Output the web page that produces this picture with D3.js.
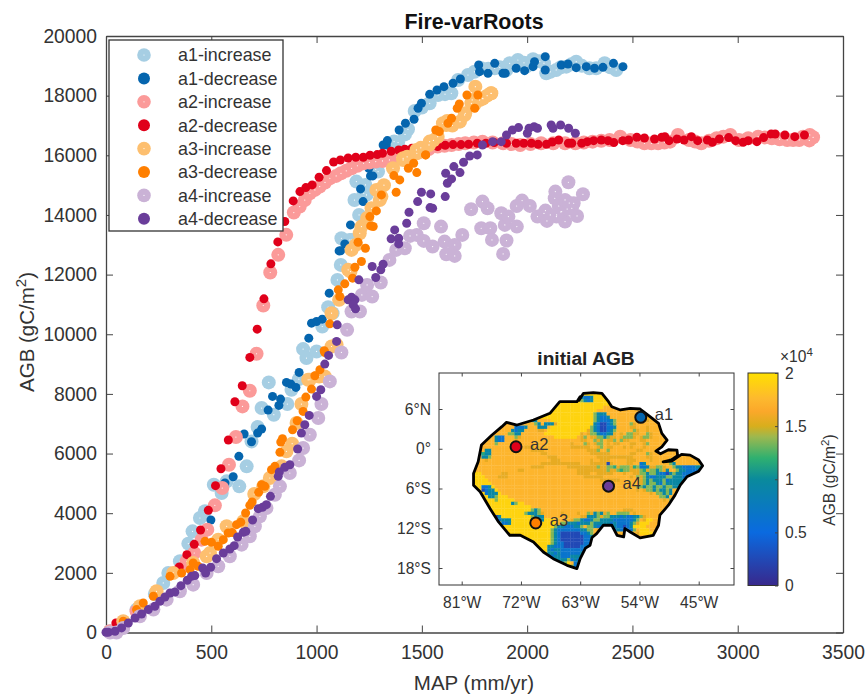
<!DOCTYPE html>
<html>
<head>
<meta charset="utf-8">
<script src="https://cdnjs.cloudflare.com/ajax/libs/d3/7.8.5/d3.min.js"></script>
<style>
  body { margin: 0; background: #fff; }
  svg { display: block; }
  text { font-family: "Liberation Sans", Arial, sans-serif; fill: #333; }
  .axis path, .axis line { stroke: #444; stroke-width: 1.3; }
  .tick line { stroke: #444; stroke-width: 1; }
</style>
</head>
<body>
<div id="chart"></div>
<script>
'use strict';

// values, [MAP mm/yr, AGB gC/m2]
var a1Increase = [[19,40],[82,320],[145,767],[232,1292],[272,1661],[296,1996],[351,2387],[391,2979],[411,3392],[446,3839],[470,4063],[512,4956],[549,4677],[573,5068],[633,4900],[668,5570],[691,6408],[720,6888],[739,7525],[773,8385],[797,7302],[861,7659],[881,8140],[916,8495],[936,9502],[952,9201],[1000,9424],[1027,10260],[1055,10908],[1076,10707],[1099,11823],[1115,12325],[1118,13219],[1158,13163],[1166,13164],[1202,14001],[1224,14727],[1189,15118],[1180,14500],[1237,14672],[1232,15007],[1281,15531],[1292,15454],[1368,16459],[1387,16426],[1420,16700],[1434,16872],[1466,17487],[1500,17600],[1537,17744],[1577,18023],[1610,18050],[1640,18079],[1672,18526],[1719,18693],[1750,18800],[1782,18917],[1815,18900],[1846,18917],[1870,18950],[1901,18861],[1917,19084],[1956,19196],[1985,19100],[1996,18972],[2028,19218],[2060,19150],[2091,18749],[2080,19090],[2110,18800],[2138,18861],[2160,18950],[2186,18972],[2210,19050],[2233,19140],[2260,19000],[2296,18917],[2328,18917],[2368,19084],[2395,18950],[2423,18861]];
var a1Decrease = [[498,3772],[565,5012],[604,5224],[631,5906],[656,6654],[691,6397],[720,6687],[739,6822],[770,7458],[791,7916],[821,7615],[829,7827],[857,8385],[878,8329],[902,8218],[917,8720],[963,9869],[976,10372],[1000,10428],[1027,10506],[1060,11377],[1107,12795],[1114,12796],[1134,13030],[1161,13667],[1209,14873],[1221,14449],[1256,15308],[1248,15565],[1267,15309],[1316,16347],[1331,16348],[1336,16493],[1392,16850],[1422,17073],[1463,17207],[1482,17576],[1498,17744],[1537,18045],[1572,18190],[1605,18302],[1648,18414],[1683,18559],[1770,19028],[1774,18805],[1814,18749],[1846,19084],[1885,18749],[1896,18749],[1948,18917],[1988,18838],[2028,18972],[2035,19140],[2086,19308],[2086,18861],[2162,19028],[2194,19062],[2233,18939],[2281,18972],[2320,18917],[2360,18950],[2410,19084],[2455,18972]];
var a2Increase = [[19,40],[82,320],[145,711],[351,2108],[383,2387],[419,2666],[454,3113],[481,3448],[517,4264],[552,4844],[584,5626],[617,6553],[648,7581],[683,8106],[715,9346],[747,10964],[780,12070],[818,12662],[856,13332],[892,14080],[920,14280],[944,14500],[968,14727],[992,14840],[1015,14951],[1040,15090],[1063,15230],[1093,15310],[1116,15397],[1141,15480],[1166,15565],[1194,15650],[1223,15733],[1251,15760],[1281,15788],[1313,15810],[1346,15844],[1380,15930],[1411,16012],[1453,16070],[1493,16123],[1533,16210],[1575,16291],[1608,16320],[1641,16347],[1675,16375],[1706,16403],[1747,16430],[1788,16458],[1836,16430],[1886,16403],[1926,16375],[1967,16347],[2016,16375],[2066,16403],[2124,16403],[2180,16403],[2229,16403],[2269,16430],[2311,16458],[2352,16486],[2392,16514],[2442,16626],[2491,16514],[2524,16460],[2557,16403],[2590,16403],[2622,16403],[2652,16430],[2679,16458],[2716,16682],[2769,16514],[2798,16460],[2827,16403],[2864,16486],[2900,16570],[2932,16626],[2965,16682],[3006,16514],[3050,16570],[3097,16626],[3129,16600],[3162,16570],[3199,16540],[3235,16514],[3263,16514],[3292,16514],[3319,16600],[3342,16682],[3358,16604],[3340,16500],[3310,16620]];
var a2Decrease = [[47,320],[348,2197],[384,2610],[419,2957],[449,3437],[486,4096],[520,4923],[546,5492],[581,6453],[612,7737],[647,8273],[683,9223],[718,10171],[750,11187],[783,12360],[816,13097],[849,13779],[889,14471],[921,14784],[949,14918],[979,15007],[1012,15264],[1047,15488],[1081,15777],[1113,15844],[1150,15911],[1186,15934],[1222,15934],[1254,16001],[1288,16023],[1313,16068],[1354,16135],[1390,16179],[1419,16202],[1453,16235],[1485,16246],[1526,16269],[1575,16291],[1611,16336],[1648,16358],[1686,16358],[1722,16369],[1763,16403],[1804,16403],[1844,16425],[1902,16403],[1948,16403],[1984,16403],[2020,16403],[2052,16369],[2092,16369],[2119,16447],[2150,16514],[2196,16403],[2212,16403],[2259,16403],[2286,16458],[2316,16492],[2352,16514],[2384,16492],[2412,16425],[2454,16492],[2482,16514],[2521,16604],[2557,16581],[2605,16548],[2639,16604],[2654,16626],[2674,16492],[2712,16548],[2745,16514],[2780,16626],[2810,16492],[2856,16514],[2880,16436],[2913,16548],[2957,16593],[2990,16492],[3026,16436],[3050,16492],[3091,16458],[3123,16593],[3159,16715],[3178,16715],[3224,16682],[3271,16626],[3317,16682]];
var a3Increase = [[82,376],[161,879],[240,1382],[319,1996],[414,2331],[478,2555],[494,2666],[533,3113],[573,3560],[652,3727],[704,4643],[747,4900],[778,5180],[834,5570],[857,6073],[884,6330],[905,7023],[928,7659],[960,8473],[968,8475],[1012,8585],[1039,8586],[1071,9589],[1095,9647],[1071,10706],[1107,11153],[1150,12159],[1161,12102],[1166,12828],[1187,13000],[1205,13387],[1213,13610],[1240,13900],[1261,14225],[1284,14839],[1300,14500],[1308,14616],[1320,15000],[1363,15565],[1411,15844],[1411,15900],[1430,15950],[1476,16068],[1474,16180],[1495,16250],[1534,16347],[1537,16459],[1555,16500],[1575,16626],[1616,17017],[1600,17073],[1620,17150],[1645,17000],[1681,17129],[1706,17408],[1703,17353],[1739,17855],[1754,18302],[1735,17744],[1750,17700],[1788,17911],[1774,17855],[1790,17900],[1810,18000],[1828,18078],[1830,18079]];
var a3Decrease = [[82,376],[145,767],[177,991],[225,1214],[304,1884],[359,1996],[399,2108],[414,2331],[438,2219],[470,3057],[501,3024],[533,2890],[557,3113],[580,3337],[600,3350],[620,3616],[640,3700],[663,4007],[683,4264],[694,4375],[725,4700],[739,4956],[754,4900],[786,5459],[802,5570],[826,6040],[830,6386],[838,6498],[886,6799],[908,7101],[936,7413],[949,7894],[976,8162],[992,8607],[1016,8808],[1036,9445],[1039,9390],[1063,10349],[1103,11489],[1110,11265],[1134,11690],[1171,11880],[1182,12248],[1213,12438],[1197,13086],[1232,12885],[1253,13945],[1257,13632],[1269,13611],[1284,14136],[1308,14671],[1378,14761],[1367,15319],[1395,15174],[1436,15565],[1461,15732],[1476,15420],[1518,16012],[1518,16012],[1566,16849],[1583,16794],[1624,17073],[1641,17241],[1668,17576],[1678,17721],[1714,18022],[1751,17576],[1766,18022]];
var a4Increase = [[19,0],[50,0],[82,153],[161,544],[225,767],[288,1102],[351,1382],[414,1605],[478,1996],[533,2219],[588,2555],[644,2945],[683,3225],[707,3560],[731,3895],[762,4174],[802,4621],[826,4900],[873,5347],[917,5771],[936,6185],[968,6632],[1008,7190],[1023,7659],[1063,8419],[1118,9390],[1145,10148],[1166,10762],[1206,10762],[1215,11320],[1240,11655],[1264,11264],[1305,11734],[1346,12493],[1378,12828],[1419,12884],[1444,13297],[1476,13331],[1509,13722],[1509,13130],[1551,12940],[1591,13610],[1608,13107],[1616,12683],[1656,12996],[1656,12627],[1692,13331],[1734,14191],[1788,14448],[1812,14225],[1782,13554],[1825,13554],[1833,13163],[1877,14057],[1886,12694],[1902,13141],[1894,13666],[1911,13945],[1951,13610],[1976,14481],[1950,14300],[2013,14303],[2049,13945],[2087,14146],[2080,14050],[2094,13800],[2139,13945],[2110,14000],[2180,13778],[2164,14113],[2180,14504],[2131,14560],[2134,14783],[2196,15096],[2212,14225],[2221,14392],[2237,13967],[2265,14693],[2150,14300],[2160,14100],[2190,14200],[2200,14400],[2140,14000]];
var a4Decrease = [[0,8],[11,8],[43,41],[74,153],[106,320],[138,488],[169,622],[201,767],[232,879],[256,1046],[280,1192],[304,1326],[327,1359],[356,1571],[386,1750],[406,1884],[422,1907],[459,2164],[473,1996],[497,2186],[525,2476],[557,2666],[588,2800],[609,2912],[625,3203],[652,3359],[664,3392],[696,3772],[723,4152],[743,4197],[762,4286],[781,4565],[818,5235],[823,5380],[849,5537],[873,5626],[910,6151],[928,6687],[944,6967],[965,7279],[1000,7916],[1020,8140],[1039,9000],[1057,9290],[1095,9759],[1098,10316],[1150,11154],[1166,11243],[1182,11154],[1174,10986],[1185,10852],[1201,11824],[1264,12271],[1281,11902],[1305,12159],[1316,12349],[1354,13198],[1371,13499],[1390,13220],[1390,13030],[1428,13722],[1439,14091],[1480,14448],[1498,14761],[1542,14705],[1539,14247],[1551,14225],[1611,14616],[1621,15062],[1641,15208],[1613,15397],[1652,15621],[1681,15420],[1698,15766],[1727,15978],[1763,16012],[1788,16347],[1836,16458],[1877,16458],[1902,16682],[1930,16849],[1959,16928],[2001,16738],[2009,16906],[2033,16961],[2049,16906],[2114,17017],[2123,16906],[2159,17017],[2197,16906],[2229,16738]];

var seriesNames = ['a1-increase', 'a1-decrease', 'a2-increase', 'a2-decrease', 'a3-increase', 'a3-decrease', 'a4-increase', 'a4-decrease'];
var seriesValues = [a1Increase, a1Decrease, a2Increase, a2Decrease, a3Increase, a3Decrease, a4Increase, a4Decrease];
var seriesColours = ['#a6cee3', '#0565ae', '#fb9a99', '#e0001a', '#fdbf6f', '#ff7f00', '#cab2d6', '#6a3d9a'];

var xTicks = [0, 500, 1000, 1500, 2000, 2500, 3000, 3500];
var yTicks = [0, 2000, 4000, 6000, 8000, 10000, 12000, 14000, 16000, 18000, 20000];

// inset map
var lonTicks = [-81, -72, -63, -54, -45];
var latTicks = [6, 0, -6, -12, -18];
var barTicks = [0, 0.5, 1, 1.5, 2];
var barStops = [0, 0.25, 0.5, 0.6, 0.7, 0.75, 0.82, 0.88, 1];
var barColours = ['#38288c', '#0a6ae0', '#0a8a9c', '#2fb070', '#9db84f', '#d8ae1c', '#fba82a', '#fdb92e', '#ffe000'];

var sites = [
  {name: 'a1', lon: -53.8, lat: 4.74, colour: '#0565ae'},
  {name: 'a2', lon: -72.75, lat: 0.3, colour: '#e0001a'},
  {name: 'a3', lon: -69.75, lat: -11.2, colour: '#ff7f00'},
  {name: 'a4', lon: -58.7, lat: -5.65, colour: '#6a3d9a'}
];

var basinEdge = [[-63,7.87],[-63.2,7.3],[-62.5,8.37],[-61,8.47],[-59.7,8.37],[-58.7,7.11],[-58.2,6.35],[-56.9,5.85],[-55.4,6.1],[-53.9,6],[-52.4,4.84],[-51.1,3.83],[-50.6,2.32],[-49.8,1.31],[-50.6,0.3],[-51.5,-0.35],[-50.8,-0.76],[-49.6,-0.15],[-48.3,-0.2],[-48.2,-1.06],[-49.1,-1.66],[-50.4,-1.97],[-49.1,-1.87],[-47.6,-0.86],[-46.3,-0.96],[-45,-1.71],[-44.4,-2.57],[-45,-3.38],[-46.8,-4.24],[-47.8,-5.5],[-48.6,-7],[-49.6,-8.52],[-50.9,-10.03],[-51.1,-11.55],[-51.9,-13.06],[-53.9,-13.46],[-55.4,-12.56],[-56.2,-12.05],[-56.4,-13.31],[-57.4,-13.06],[-58.2,-11.55],[-59.5,-11.55],[-60.5,-12.81],[-61.2,-13.4],[-61.5,-14.57],[-62.2,-15],[-63,-16.59],[-63.5,-18.1],[-65,-17.6],[-67.1,-16.59],[-68.6,-15.58],[-70.1,-14.07],[-72.1,-13.06],[-73.7,-13.06],[-75.4,-11.05],[-76.7,-9.03],[-78.2,-6.5],[-79.2,-5.5],[-79.2,-3.73],[-78.5,-1.97],[-78,0.55],[-76.4,2.07],[-74.9,3.33],[-74.2,3.98],[-72.6,3.58],[-70.1,4.34],[-67.6,5.35],[-66.1,7.11],[-63.5,7.11]];

// half degree cells from 79.5W, 8.5N, one letter per AGB level
var agbLevels = {d: 2500, b: 6500, t: 9500, g: 11500, l: 13500, a: 15600, o: 17300, y: 19200};
var agbRows = [
  'yyyyyyyyyyyyyyyyyyyyyyyyyyyyyyyyyyyyyyyyyyyyyyyyyyyyyyyyyyyyyyyyyyyyyyy',
  'yyyyyyyyyyyyyyyyyyyyyyyyyyyyyyyyytbbtyyyyyyyyyyyyyyyyyyyyyyyyyyyyyyyyyy',
  'yyyyyyyyyyyyyyyyyyyyyyyyyyyyyyyyyltbtyyyyyyyyyyyyyyyyyyyyyyyyyyyyyyyyyy',
  'ooooooooooooooooooooooooyyyyyyyyyyyyyyyyyyyytoooooooooooooooooooooooooo',
  'ooooooooooooooooooooooooyyyyyyyyyyyyyyyyoooooooooooooooooooyyyyyyyyyyyy',
  'ooooooooooooooooooooooooyyyyyyyyyyyyyyoooooooooooooooooooooootyyyyyyyyy',
  'ooooooooooooooooooooooyyyyyyyyyyyyyyyltttooooooooooooooooooooooooyyyyyy',
  'oooooooooooooooooooooyyyyyyyyyyyyyyyyltbbtooooooooooooaoooooooooooyyyyy',
  'oooooooooooooooooottooooyyyyyyyyyyyyyltbbbtlooooooooaaoooooooooooooooyy',
  'oooooooooooooooooooltotttayyyyyyyyyyytbddbtloooolaooooooooooooooooooooo',
  'ooooooooooooobbbtoootttoyyyyyyyyyyyyltbddbbtooooaaoooaoooooooooooooooooo',
  'ooooooooooootbttooooaaoyyyyyyyyyyyyaltbddbtlooooolaooaooooooooooooooooo',
  'ooooooooooollttoooooooyyyyyyyyyyyaoalltbbttaoaollaaoolaooooooooooooooo',
  'oooooootbbooolaooooooooooyyyyyyyoaloaalltlaaoalllaoallaoooooooooooooooo',
  'oooooootbboooaoooooooooooooooooooaaoolaloaalolaaoooaaoooooooooooooooooo',
  'ooooooolooooooooooooooooooooooaooolaoalloaoaaoooaaooalooooooooooooooooo',
  'ooooooooooooooooaaaoooooooooooaaaaaaooaloaaoooaoaoooaooooooooooooooooo',
  'oooottooooooooooooaaaaoooooooooooooaaaloolooooooooaaoooooooooooooooooo',
  'ootgttoooooooooooooooaaoooooooooooooaaaaaaooooooaaooolaoooooooooooooooo',
  'ooottloooooooooooooooooaaaooooooooooooaaaaaaaaaaaooooaaooooooooooooooooo',
  'ooooaoooooooooooooooooooaaaoooooooooaooaaaoooooaaaooooaoooootoooooooooo',
  'oooooooooooooooooooooaaaaaaaaaaaaoooaaaaadaooooaaoobtoooooooltoooooooo',
  'ooooooooooooooooooaaaaoooooooaaaaaaaaalaallgalllaglbbtaallaoolttbbbbttt',
  'ooooooooooooooaaooooooooooooooooaaaaaaaaalaalgllaaalgalltlatoolttbbbbbdt',
  'yyyooooooaaoooooooooooooooooooooaaaaooaaaaaoooaooaalltlltbbdtlttbbbbbbto',
  'yyyyooooaaaoooooooooooooooooooooooaaaaaaooooooooaolaltbbtttlltttbbbttoo',
  'yyyyyooooooooooooooooooooooooooooooooooaaaaaaooooooaltltttlbttttttttoooo',
  'yyyyyyoooooooooooooooooooooooooooooooooooooooooooooaltlltbltttttoooooooo',
  'yyybbtyooooooooooooooooooooooooooooooooooooooooooolltlltlltllttoooooooo',
  'yyydbttyooooooooooooooooooooooooooooooooooooooooooaoalltlttltoooooooooo',
  'yyyybtttyoooooooooooooooooooooooooooooooooooooooooooooaolltltoooooooooo',
  'yyyyyttlyyyoooooooooooooooooooooooooooooooooooooooooooooolltoooooooooooo',
  'yyyyyyylyyyyyoooooooooooooooooooooooooooooooooooooooooooooaoltooooooooo',
  'yyyyyyyyyyyytlyyooooooooooooooooooooooooooooooooooooooooooooooooooooooo',
  'yyyyyyyyyyyyyyyyyyooooooooooooooooooooooooooooooooooooooooooooooooooooo',
  'yyyyyyyyyyyyyyyyyyltloooooooooooooooooooooooooaaaoooooooooooooooooooooo',
  'yyyyyyyyyyyyyyyyltttlaoooooaooooaoolatltaloolllloaoooooooooooooooooooo',
  'yyyyyyydtyyyyyyyyyltttoooooooooooaatttlalltttbtbbttlaooooooooooooooooo',
  'yyyyyyydbtttyyyyyyyyltyyyoooooalltbbtllttttbbbbbbtloayyoooooooooooooo',
  'yyyyyyyyybbtyyyyyyyyyyyyyyolltttbtttltttttbtbbbbtlayyyoooooooooooooo',
  'yyyyyyyyyyyyyyyyyyyyyyyyylttbbbttlolltbbttbtbbdbtyyyyooooooooooooo',
  'yyyyyyyyyyyyyyyyyyyyyyyyltbbbbbbbttlloaotbtbtbdbbloyyyoooooooooooo',
  'yyyyyyyyyyyyyyyyyyyyyyyyltbddddddbbtloooooooooooooayyyyoooooooooooo',
  'yyyyyyyyyyyyyyyyyyyyyyyyltbdddddddbbtooooooooooooooooooooooooooooooo',
  'yyyyyyyyyyyyyyyyyyyyyyyyltbdddddddbbtloooooooooooooooooooooooooooooo',
  'yyyyyyyyyyyyyyyyyyyyyyyyltbbddddddbbtooooooooooooooooooooooooooooooo',
  'yyyyyyyyyyyyyyyyyyyyyyyttbbbdddddbbttooooooooooooooooooooooooooooooo',
  'yyyyyyyyyyyyyyyyyyyyyyytbttbbbbbbbbtoooooooooooooooooooooooooooooooo',
  'yyyyyyyyyyyyyyyyyyyyyyyttbtbbbbbbttyoooooooooooooooooooooooooooooooo',
  'yyyyyyyyyyyyyyyyyyyyyyydbttbbbtttttyoooooooooooooooooooooooooooooooo',
  'yyyyyyyyyyyyyyyyyyyyyyyyyttttlbtbtoyyoooooooooooooooooooooooooooooooo',
  'yyyyyyyyyyyyyyyyyyyyyyyyyyttlyobtyyooooooooooooooooooooooooooooooooo',
  'yyyyyyyyyyyyyyyyyyyyyyyyyyyyyylbtyyooooooooooooooooooooooooooooooooo',
  'yyyyyyyyyyyyyyyyyyyyyyyyyyyyyyttyyyooooooooooooooooooooooooooooooooo'
];

function addMarkers(g, data, colour, radius, hasCentre) {
  var gs = g.append('g');
  gs.selectAll('circle.m')
    .data(data)
    .enter().append('circle')
    .attr('class', 'm')
    .attr('cx', function(d) { return d[0]; })
    .attr('cy', function(d) { return d[1]; })
    .attr('r', radius)
    .attr('fill', colour);
  if (hasCentre) {
    gs.selectAll('circle.c')
      .data(data)
      .enter().append('circle')
      .attr('class', 'c')
      .attr('cx', function(d) { return d[0]; })
      .attr('cy', function(d) { return d[1]; })
      .attr('r', 0.6)
      .attr('fill', '#fff');
  }
}

function makeMainChart(svg) {
  var x = d3.scaleLinear().domain([0, 3500]).range([106, 843]);
  var y = d3.scaleLinear().domain([0, 20000]).range([632.5, 36]);
  var tickLen = 7;

  function axis(gen, ticks, tx, ty, noLabels, pad) {
    gen.tickValues(ticks).tickSizeInner(-tickLen).tickSizeOuter(0).tickPadding(pad || 9);
    gen.tickFormat(noLabels ? '' : d3.format('d'));
    var g = svg.append('g')
      .attr('class', 'axis')
      .attr('transform', 'translate(' + tx + ',' + ty + ')')
      .call(gen);
    g.selectAll('text').style('font-size', '19.3px').style('font-family', '"Liberation Sans"').attr('fill', '#333');
    return g;
  }

  axis(d3.axisBottom(x), xTicks, 0, 632.5, false, 13);
  axis(d3.axisLeft(y), yTicks, 106, 0);
  axis(d3.axisTop(x), xTicks, 0, 36, true);
  axis(d3.axisRight(y), yTicks, 843, 0, true);

  svg.append('text')
    .attr('x', 474).attr('y', 29)
    .attr('text-anchor', 'middle')
    .style('font-size', '21.4px').style('font-weight', 'bold').style('fill', '#111')
    .text('Fire-varRoots');

  svg.append('text')
    .attr('x', 474).attr('y', 690)
    .attr('text-anchor', 'middle')
    .style('font-size', '20.5px')
    .text('MAP (mm/yr)');

  var yLabel = svg.append('text')
    .attr('transform', 'translate(34,332) rotate(-90)')
    .attr('text-anchor', 'middle')
    .style('font-size', '20.5px');
  yLabel.append('tspan').text('AGB (gC/m');
  yLabel.append('tspan').attr('dy', -8).style('font-size', '15px').text('2');
  yLabel.append('tspan').attr('dy', 8).text(')');

  var marks = svg.append('g');
  seriesValues.forEach(function(values, i) {
    var isIncrease = i % 2 === 0;
    var pts = values.map(function(d) { return [x(d[0]), y(d[1])]; });
    addMarkers(marks, pts, seriesColours[i], isIncrease ? 7 : 4.5, isIncrease);
  });

  // legend goes over the marks
  var legend = svg.append('g');
  legend.append('rect')
    .attr('x', 109).attr('y', 40)
    .attr('width', 174).attr('height', 191)
    .attr('fill', '#fff')
    .attr('stroke', '#333').attr('stroke-width', 1.3);

  var rows = legend.selectAll('.legend')
    .data(seriesNames)
    .enter().append('g')
    .attr('class', 'legend')
    .attr('transform', function(d, i) { return 'translate(144,' + (55 + i * 23.4) + ')'; });

  rows.append('circle')
    .attr('r', function(d, i) { return i % 2 === 0 ? 6.8 : 6; })
    .attr('fill', function(d, i) { return seriesColours[i]; });
  rows.filter(function(d, i) { return i % 2 === 0; }).append('circle')
    .attr('r', 0.6).attr('fill', '#fff');
  rows.append('text')
    .attr('x', 34).attr('dy', '.36em')
    .style('font-size', '17.9px')
    .text(function(d) { return d; });
}

function makeInset(svg) {
  var lon = d3.scaleLinear().domain([-81, -45]).range([461.7, 698.7]);
  var lat = d3.scaleLinear().domain([6, -18]).range([409, 568]);
  var colour = d3.scaleLinear().domain(barStops.map(function(d) { return d * 20000; })).range(barColours);

  var g = svg.append('g').attr('class', 'inset');

  g.append('text')
    .attr('x', 586).attr('y', 365)
    .attr('text-anchor', 'middle')
    .style('font-size', '19.2px').style('font-weight', 'bold').style('fill', '#222')
    .text('initial AGB');

  var edgeLine = d3.line()
    .x(function(d) { return lon(d[0]); })
    .y(function(d) { return lat(d[1]); });

  svg.append('clipPath').attr('id', 'basin')
    .append('path').attr('d', edgeLine(basinEdge) + 'Z');

  var cells = [];
  agbRows.forEach(function(row, r) {
    row.split('').forEach(function(c, k) {
      cells.push({lon: -79.5 + k * 0.5, lat: 8.5 - r * 0.5, value: agbLevels[c]});
    });
  });

  g.append('g').attr('clip-path', 'url(#basin)')
    .selectAll('rect')
    .data(cells)
    .enter().append('rect')
    .attr('x', function(d) { return lon(d.lon); })
    .attr('y', function(d) { return lat(d.lat); })
    .attr('width', lon(-80.5) - lon(-81) + 0.3)
    .attr('height', lat(0) - lat(0.5) + 0.3)
    .attr('fill', function(d) { return colour(d.value); });

  g.append('path')
    .attr('d', edgeLine(basinEdge) + 'Z')
    .attr('fill', 'none')
    .attr('stroke', '#000').attr('stroke-width', 2.8).attr('stroke-linejoin', 'round');

  // map frame, 439-734 by 373-585
  g.append('rect')
    .attr('x', 439).attr('y', 373).attr('width', 295).attr('height', 212)
    .attr('fill', 'none').attr('stroke', '#333').attr('stroke-width', 1);

  function lonFormat(d) { return Math.abs(d) + '°W'; }
  function latFormat(d) { return d === 0 ? '0°' : Math.abs(d) + (d > 0 ? '°N' : '°S'); }

  function axis(gen, ticks, tx, ty, fmt, pad) {
    gen.tickValues(ticks).tickSizeInner(-3.5).tickSizeOuter(0).tickPadding(pad || 8);
    gen.tickFormat(fmt || '');
    var a = g.append('g').attr('transform', 'translate(' + tx + ',' + ty + ')').call(gen);
    a.select('.domain').remove();
    a.selectAll('text').style('font-size', '15.6px').style('font-family', '"Liberation Sans"').attr('fill', '#333');
  }
  axis(d3.axisBottom(lon), lonTicks, 0, 585, lonFormat, 12);
  axis(d3.axisTop(lon), lonTicks, 0, 373);
  axis(d3.axisLeft(lat), latTicks, 439, 0, latFormat);
  axis(d3.axisRight(lat), latTicks, 734, 0);

  var site = g.selectAll('.site')
    .data(sites)
    .enter().append('g')
    .attr('class', 'site');
  site.append('circle')
    .attr('cx', function(d) { return lon(d.lon); })
    .attr('cy', function(d) { return lat(d.lat); })
    .attr('r', 5.5)
    .attr('fill', function(d) { return d.colour; })
    .attr('stroke', '#111').attr('stroke-width', 2);
  site.append('text')
    .attr('x', function(d) { return lon(d.lon) + 14; })
    .attr('y', function(d) { return lat(d.lat) + 3; })
    .style('font-size', '16.5px')
    .text(function(d) { return d.name; });

  // colour bar
  var bar = d3.scaleLinear().domain([0, 2]).range([585.5, 373]);
  var grad = svg.append('linearGradient').attr('id', 'parula')
    .attr('x1', 0).attr('x2', 0).attr('y1', 1).attr('y2', 0);
  grad.selectAll('stop')
    .data(barStops)
    .enter().append('stop')
    .attr('offset', function(d) { return d; })
    .attr('stop-color', function(d, i) { return barColours[i]; });
  g.append('rect')
    .attr('x', 748).attr('y', 373).attr('width', 30).attr('height', 212.5)
    .attr('fill', 'url(#parula)')
    .attr('stroke', '#333').attr('stroke-width', 1);

  var barAxis = d3.axisRight(bar).tickValues(barTicks).tickSizeInner(-3).tickSizeOuter(0).tickPadding(7)
    .tickFormat(function(d) { return String(d); });
  var ba = g.append('g').attr('transform', 'translate(778,0)').call(barAxis);
  ba.select('.domain').remove();
  ba.selectAll('text').style('font-size', '15.6px').style('font-family', '"Liberation Sans"').attr('fill', '#333');

  var times = g.append('text').attr('x', 780).attr('y', 362).style('font-size', '15.6px');
  times.append('tspan').text('×10');
  times.append('tspan').attr('dy', -6).style('font-size', '11.5px').text('4');

  var barLabel = g.append('text')
    .attr('transform', 'translate(835,480) rotate(-90)')
    .attr('text-anchor', 'middle')
    .style('font-size', '15.6px');
  barLabel.append('tspan').text('AGB (gC/m');
  barLabel.append('tspan').attr('dy', -6).style('font-size', '11.5px').text('2');
  barLabel.append('tspan').attr('dy', 6).text(')');
}

function main() {
  var svg = d3.select('#chart').append('svg')
    .attr('width', 865)
    .attr('height', 696);
  makeMainChart(svg);
  makeInset(svg);
}

main();
</script>
</body>
</html>
